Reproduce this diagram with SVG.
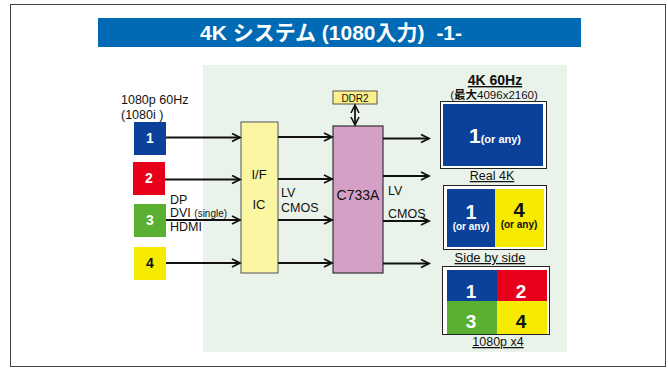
<svg xmlns="http://www.w3.org/2000/svg" width="668" height="369" viewBox="0 0 668 369">
<style>
text{font-family:"Liberation Sans",Arial,"Noto Sans CJK JP",sans-serif;fill:#111}
.w{fill:#fff}
.b{font-weight:bold}
.lbl{font-size:12.5px}
.num{font-size:14px;font-weight:bold;text-anchor:middle}
.u{text-decoration:underline}
.c{text-anchor:middle}
.ln{stroke:#111;stroke-width:2;fill:none;marker-end:url(#ah)}
</style>
<defs>
<marker id="ah" markerUnits="userSpaceOnUse" markerWidth="12" markerHeight="12" refX="9" refY="5" orient="auto">
<path d="M1,1 L9,5 L1,9" fill="none" stroke="#111" stroke-width="1.8"/>
</marker>
<marker id="ahs" markerUnits="userSpaceOnUse" markerWidth="12" markerHeight="12" refX="9" refY="5" orient="auto-start-reverse">
<path d="M1,1 L9,5 L1,9" fill="none" stroke="#111" stroke-width="1.6"/>
</marker>
</defs>
<rect x="0" y="0" width="668" height="369" fill="#fff"/>
<rect x="10.5" y="4.5" width="655" height="362" fill="none" stroke="#444" stroke-width="1"/>
<g id="title">
<rect x="98" y="18" width="483" height="29" fill="#006ab4"/>
<text x="331" y="40" class="w b c" style="font-size:21px;font-family:'Liberation Sans','Noto Sans CJK JP',sans-serif">4K システム (1080入力) <tspan dx="6">-1-</tspan></text>
</g>
<rect id="panel" x="203" y="65" width="364" height="287" fill="#eaf3ea"/>
<g id="input-label">
<text x="121" y="104" class="lbl">1080p 60Hz</text>
<text x="121" y="119" class="lbl">(1080i )</text>
</g>
<g id="in1"><rect x="134" y="122" width="32" height="33" fill="#0b4199"/><text x="150" y="143" class="num w">1</text></g>
<g id="in2"><rect x="133" y="162" width="32" height="33" fill="#e8001b"/><text x="149" y="183" class="num w">2</text></g>
<g id="in3"><rect x="134" y="204" width="32" height="33" fill="#5bb031"/><text x="150" y="225" class="num w">3</text></g>
<g id="in4"><rect x="134" y="247" width="32" height="33" fill="#f5ea00"/><text x="150" y="268" class="num">4</text></g>
<g id="in3-label">
<text x="170" y="204" class="lbl">DP</text>
<text x="170" y="217" class="lbl">DVI <tspan style="font-size:10px">(single)</tspan></text>
<text x="170" y="231" class="lbl">HDMI</text>
</g>
<g id="ific"><rect x="241" y="122" width="37" height="151" fill="#fbf6a1" stroke="#555" stroke-width="1"/>
<text x="259" y="179" class="lbl c" style="font-size:13px">I/F</text>
<text x="259" y="209" class="lbl c" style="font-size:13px">IC</text></g>
<g id="c733a"><rect x="333" y="126" width="50" height="147" fill="#d59fc6" stroke="#333" stroke-width="1.2"/>
<text x="358" y="200" class="c" style="font-size:14px">C733A</text></g>
<g id="ddr2"><rect x="333" y="91" width="44" height="13" fill="#fbf08a" stroke="#555" stroke-width="1"/>
<text x="355" y="102" class="c" style="font-size:10px">DDR2</text></g>
<g id="mid-label"><text x="281" y="197" class="lbl">LV</text><text x="281" y="212" class="lbl">CMOS</text></g>
<g id="out-label"><text x="388" y="195" class="lbl">LV</text><text x="388" y="218" class="lbl">CMOS</text></g>
<g id="connectors">
<line x1="166" y1="137.5" x2="240" y2="137.5" class="ln"/>
<line x1="165" y1="179.5" x2="240" y2="179.5" class="ln"/>
<line x1="166" y1="220" x2="240" y2="220" class="ln"/>
<line x1="166" y1="263" x2="240" y2="263" class="ln"/>
<line x1="278" y1="137" x2="332" y2="137" class="ln"/>
<line x1="278" y1="179" x2="332" y2="179" class="ln"/>
<line x1="278" y1="220" x2="332" y2="220" class="ln"/>
<line x1="278" y1="263" x2="332" y2="263" class="ln"/>
<line x1="383" y1="138.5" x2="429" y2="138.5" class="ln"/>
<line x1="383" y1="176" x2="429" y2="176" class="ln"/>
<line x1="383" y1="221" x2="429" y2="221" class="ln"/>
<line x1="383" y1="263.5" x2="429" y2="263.5" class="ln"/>
<line x1="355" y1="105" x2="355" y2="125" stroke="#111" stroke-width="1.8" marker-start="url(#ahs)" marker-end="url(#ahs)"/>
</g>
<g id="out-title">
<text x="495" y="85" class="b c u" style="font-size:14px">4K 60Hz</text>
<text x="494" y="98.5" class="c" style="font-size:11.5px">(<tspan class="b" style="font-family:'Noto Sans CJK JP',sans-serif">最大</tspan>4096x2160)</text>
</g>
<g id="real4k">
<rect x="440.5" y="101.5" width="106" height="67" fill="#fff" stroke="#222" stroke-width="1"/>
<rect x="443" y="104" width="100" height="62" fill="#0b4199"/>
<text x="495" y="143" class="w b c" style="font-size:21px">1<tspan style="font-size:11px">(or any)</tspan></text>
<text x="492" y="180" class="c u" style="font-size:12.5px">Real 4K</text>
</g>
<g id="sidebyside">
<rect x="443.5" y="185.5" width="103" height="64" fill="#fff" stroke="#222" stroke-width="1"/>
<rect x="447" y="189" width="48" height="58" fill="#0b4199"/>
<rect x="495" y="189" width="49" height="58" fill="#f5ea00"/>
<text x="471" y="219" class="w b c" style="font-size:20px">1</text>
<text x="471" y="230" class="w b c" style="font-size:10px">(or any)</text>
<text x="519" y="217" class="b c" style="font-size:20px">4</text>
<text x="519" y="228" class="b c" style="font-size:10px">(or any)</text>
<text x="490" y="262" class="c u" style="font-size:13px">Side by side</text>
</g>
<g id="quad">
<rect x="442.5" y="266.5" width="107" height="68" fill="#fff" stroke="#222" stroke-width="1"/>
<rect x="447" y="270" width="50" height="31" fill="#0b4199"/>
<rect x="497" y="270" width="50" height="31" fill="#e8001b"/>
<rect x="447" y="301" width="50" height="33" fill="#5bb031"/>
<rect x="497" y="301" width="50" height="33" fill="#f5ea00"/>
<text x="471" y="298" class="w b c" style="font-size:19px">1</text>
<text x="521" y="298" class="w b c" style="font-size:19px">2</text>
<text x="471" y="328" class="w b c" style="font-size:19px">3</text>
<text x="521" y="328" class="b c" style="font-size:19px">4</text>
<text x="498" y="346" class="c u" style="font-size:12.5px">1080p x4</text>
</g>
</svg>
